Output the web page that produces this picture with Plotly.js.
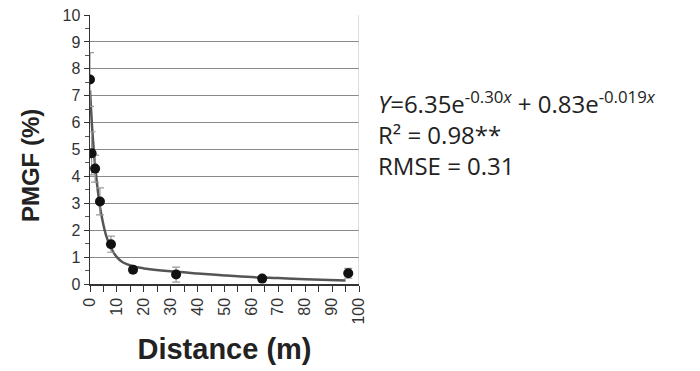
<!DOCTYPE html>
<html><head><meta charset="utf-8">
<script src="https://cdn.plot.ly/plotly-3.0.1.min.js"></script>
<style>body{margin:0;background:#fff}#c{width:700px;height:371px}</style>
</head><body><div id="c"></div>
<script>
// Observed data
const distance = [0, 0.6, 1.9, 3.7, 7.8, 16, 32, 64, 96];
const pmgf     = [7.6, 4.86, 4.29, 3.07, 1.48, 0.53, 0.35, 0.2, 0.4];
const errBar   = [1.0, 0.8, 0.5, 0.5, 0.3, 0.1, 0.28, 0.05, 0.18];
// Fitted curve
const fitX = [0, 0.5, 1, 2, 3, 4, 6, 8, 10, 12, 16, 20, 30, 40, 50, 60, 70, 80, 95];
const fitY = [7.2, 6.3, 5.5, 4.3, 3.4, 2.7, 1.8, 1.3, 1.0, 0.82, 0.66, 0.58, 0.47, 0.39, 0.32, 0.26, 0.22, 0.18, 0.13];
const xTicks = [0,10,20,30,40,50,60,70,80,90,100];
const yTicks = [0,1,2,3,4,5,6,7,8,9,10];

const traces = [
  {x: fitX, y: fitY, mode:'lines', line:{color:'#555', width:2.5, shape:'spline'}, hoverinfo:'skip'},
  {x: distance, y: pmgf, mode:'markers', marker:{color:'#111', size:10},
   error_y:{type:'data', array: errBar, visible:true, color:'#999', thickness:1.2, width:4}}
];
const layout = {
  width:700, height:371,
  margin:{l:90, r:341, t:15, b:87},
  showlegend:false,
  paper_bgcolor:'#fff', plot_bgcolor:'#fff',
  font:{family:'Liberation Sans, Arial, sans-serif', color:'#333'},
  xaxis:{range:[0,100], tickvals:xTicks, ticktext:xTicks.map(String), tickangle:-90,
    ticks:'outside', ticklen:6, tickcolor:'#333',
    minor:{dtick:5, ticks:'outside', ticklen:6, tickcolor:'#333'},
    showgrid:false, zeroline:false, showline:true, linecolor:'#333', linewidth:1.5,
    tickfont:{size:16, color:'#333'},
    title:{text:'<b>Distance (m)</b>', font:{size:29, color:'#222'}, standoff:15}},
  yaxis:{range:[0,10], tickvals:yTicks, ticktext:yTicks.map(String),
    ticks:'outside', ticklen:5, tickcolor:'#333',
    minor:{dtick:0.5, ticks:'outside', ticklen:4, tickcolor:'#555'},
    showgrid:true, gridcolor:'#8a8a8a', gridwidth:1, zeroline:false, showline:true, linecolor:'#333', linewidth:1.5,
    tickfont:{size:16, color:'#333'}},
  shapes:[{type:'line', xref:'x', yref:'paper', x0:100, x1:100, y0:0, y1:1, line:{color:'#bbb', width:1}}],
  annotations:[
    {xref:'paper', yref:'paper', x:-0.219, y:0.4387, xanchor:'center', yanchor:'middle', showarrow:false, textangle:-90,
     text:'<b>PMGF (%)</b>', font:{size:24, color:'#222'}},
    {xref:'paper', yref:'paper', x:1.065, y:0.56, xanchor:'left', yanchor:'middle', align:'left', showarrow:false,
     text:'<i>Y</i>=6.35e<sup>-0.30<i>x</i></sup> + 0.83e<sup>-0.019<i>x</i></sup><br>R² = 0.98**<br>RMSE = 0.31',
     font:{family:'Open Sans', size:24, color:'#222'}}
  ]
};
Plotly.newPlot('c', traces, layout, {displayModeBar:false, staticPlot:true});
</script></body></html>
